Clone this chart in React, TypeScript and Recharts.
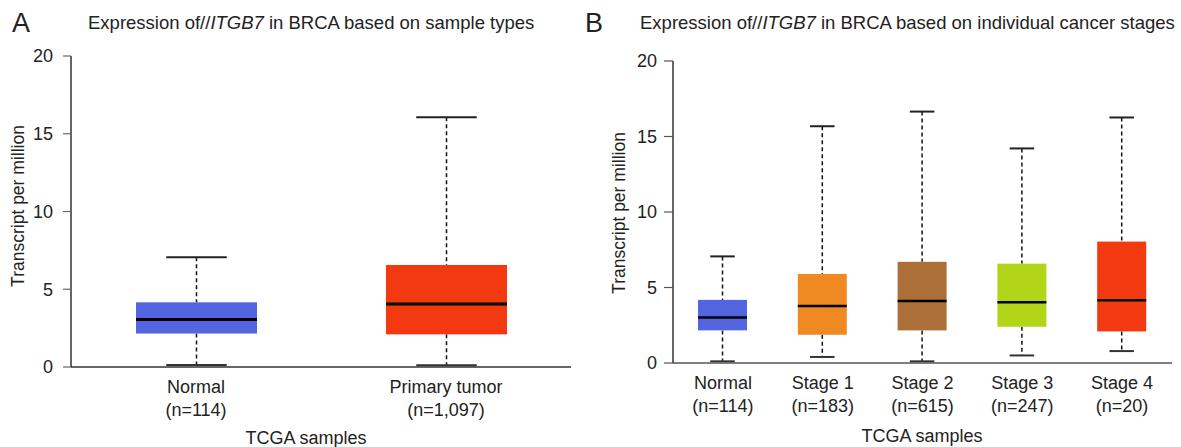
import React from 'react';
import { ComposedChart, Bar, XAxis, YAxis } from 'recharts';

// ---------- Data ----------
const yTicks = [0, 5, 10, 15, 20];

const aCategories = ['Normal', 'Primary tumor'];
const aCounts = ['(n=114)', '(n=1,097)'];
const aMin = [0.13, 0.11];
const aQ1 = [2.15, 2.1];
const aMedian = [3.05, 4.05];
const aQ3 = [4.16, 6.56];
const aMax = [7.05, 16.06];

const bCategories = ['Normal', 'Stage 1', 'Stage 2', 'Stage 3', 'Stage 4'];
const bCounts = ['(n=114)', '(n=183)', '(n=615)', '(n=247)', '(n=20)'];
const bMin = [0.11, 0.4, 0.11, 0.5, 0.79];
const bQ1 = [2.16, 1.87, 2.16, 2.4, 2.09];
const bMedian = [3.02, 3.77, 4.1, 4.03, 4.16];
const bQ3 = [4.18, 5.9, 6.7, 6.58, 8.04];
const bMax = [7.06, 15.68, 16.65, 14.21, 16.26];

// ---------- Styles ----------
const aColors = ['#5366E0', '#F2390F'];
const bColors = ['#5366E0', '#EF8A22', '#AD6F38', '#B3D518', '#F2390F'];
const FONT = '"Liberation Sans", Arial, Helvetica, sans-serif';
const TEXT = '#222';

function buildRows(cats, counts, mn, q1, med, q3, mx, colors) {
  return cats.map((name, i) => ({
    name,
    count: counts[i],
    range: [mn[i], mx[i]],
    min: mn[i],
    q1: q1[i],
    median: med[i],
    q3: q3[i],
    max: mx[i],
    color: colors[i],
  }));
}

const aRows = buildRows(aCategories, aCounts, aMin, aQ1, aMedian, aQ3, aMax, aColors);
const bRows = buildRows(bCategories, bCounts, bMin, bQ1, bMedian, bQ3, bMax, bColors);

function makeBoxShape(medianWidth) {
  return (props) => {
    const { x, y, width, height, payload } = props;
    if (!payload || width == null) return null;
    const top = Math.min(y, y + height);
    const bottom = Math.max(y, y + height);
    const span = payload.max - payload.min;
    const py = (v) => bottom - ((bottom - top) * (v - payload.min)) / span;
    const cx = x + width / 2;
    const capHalf = width / 4;
    const yMax = py(payload.max);
    const yMin = py(payload.min);
    const yQ1 = py(payload.q1);
    const yQ3 = py(payload.q3);
    const yMed = py(payload.median);
    return (
      <g>
        <line x1={cx} x2={cx} y1={yMax} y2={yQ3} stroke="#111" strokeWidth={1.5} strokeDasharray="4 3" />
        <line x1={cx} x2={cx} y1={yQ1} y2={yMin} stroke="#111" strokeWidth={1.5} strokeDasharray="4 3" />
        <line x1={cx - capHalf} x2={cx + capHalf} y1={yMax} y2={yMax} stroke="#222" strokeWidth={2} />
        <line x1={cx - capHalf} x2={cx + capHalf} y1={yMin} y2={yMin} stroke="#333" strokeWidth={2} />
        <rect x={x} y={yQ3} width={width} height={yQ1 - yQ3} fill={payload.color} />
        <line x1={x} x2={x + width} y1={yMed} y2={yMed} stroke="#000" strokeWidth={medianWidth} />
      </g>
    );
  };
}

function makeTick(rows) {
  return (props) => {
    const { x, y, payload } = props;
    const row = rows.find((r) => r.name === payload.value);
    return (
      <text x={x} y={y} textAnchor="middle" fill={TEXT} fontFamily={FONT} fontSize={18}>
        <tspan x={x} dy={25.5}>{payload.value}</tspan>
        <tspan x={x} dy={23}>{row ? row.count : ''}</tspan>
      </text>
    );
  };
}

const tickStyle = { fill: TEXT, fontSize: 18, fontFamily: FONT };

export default function App() {
  return (
    <div style={{ position: 'absolute', left: 0, top: 0, width: 1181, height: 447, background: '#fff', overflow: 'hidden' }}>
      <div style={{ position: 'absolute', left: 0, top: 0 }}>
        <ComposedChart width={590} height={447} data={aRows} margin={{ top: 56, right: 19, left: 0, bottom: 0 }}>
          <XAxis
            dataKey="name"
            type="category"
            height={80}
            tickLine={false}
            tickSize={0}
            tickMargin={0}
            axisLine={{ stroke: '#333', strokeWidth: 1.5 }}
            tick={makeTick(aRows)}
            interval={0}
          />
          <YAxis
            type="number"
            domain={[0, 20]}
            ticks={yTicks}
            width={71}
            tickSize={8}
            tickMargin={10}
            tickLine={{ stroke: '#666', strokeWidth: 1.2 }}
            axisLine={{ stroke: '#333', strokeWidth: 1.5 }}
            tick={tickStyle}
            allowDataOverflow
          />
          <Bar dataKey="range" barSize={121} isAnimationActive={false} shape={makeBoxShape(3)} />
        </ComposedChart>
      </div>
      <div style={{ position: 'absolute', left: 590, top: 0 }}>
        <ComposedChart width={591} height={447} data={bRows} margin={{ top: 61, right: 9, left: 0, bottom: 0 }}>
          <XAxis
            dataKey="name"
            type="category"
            height={84}
            tickLine={false}
            tickSize={0}
            tickMargin={0}
            axisLine={{ stroke: '#555', strokeWidth: 1.5 }}
            tick={makeTick(bRows)}
            interval={0}
          />
          <YAxis
            type="number"
            domain={[0, 20]}
            ticks={yTicks}
            width={83}
            tickSize={9}
            tickMargin={7}
            tickLine={{ stroke: '#555', strokeWidth: 1.2 }}
            axisLine={{ stroke: '#333', strokeWidth: 1.5 }}
            tick={tickStyle}
            allowDataOverflow
          />
          <Bar dataKey="range" barSize={49} isAnimationActive={false} shape={makeBoxShape(2.5)} />
        </ComposedChart>
      </div>
      <svg width={1181} height={447} style={{ position: 'absolute', left: 0, top: 0, pointerEvents: 'none' }}>
        <g fontFamily={FONT} fill={TEXT}>
          <text x={12} y={32} fontSize={27}>A</text>
          <text x={88} y={29} fontSize={18.5}>
            Expression of//<tspan fontStyle="italic">ITGB7</tspan> in BRCA based on sample types
          </text>
          <text x={585} y={32} fontSize={27}>B</text>
          <text x={640} y={29} fontSize={18.5}>
            Expression of//<tspan fontStyle="italic">ITGB7</tspan> in BRCA based on individual cancer stages
          </text>
          <text x={0} y={0} fontSize={17.5} textAnchor="middle" transform="translate(24,206) rotate(-90)">Transcript per million</text>
          <text x={0} y={0} fontSize={17.5} textAnchor="middle" transform="translate(624.5,213) rotate(-90)">Transcript per million</text>
          <text x={306} y={444} fontSize={18} textAnchor="middle">TCGA samples</text>
          <text x={922} y={442} fontSize={18} textAnchor="middle">TCGA samples</text>
        </g>
      </svg>
    </div>
  );
}
